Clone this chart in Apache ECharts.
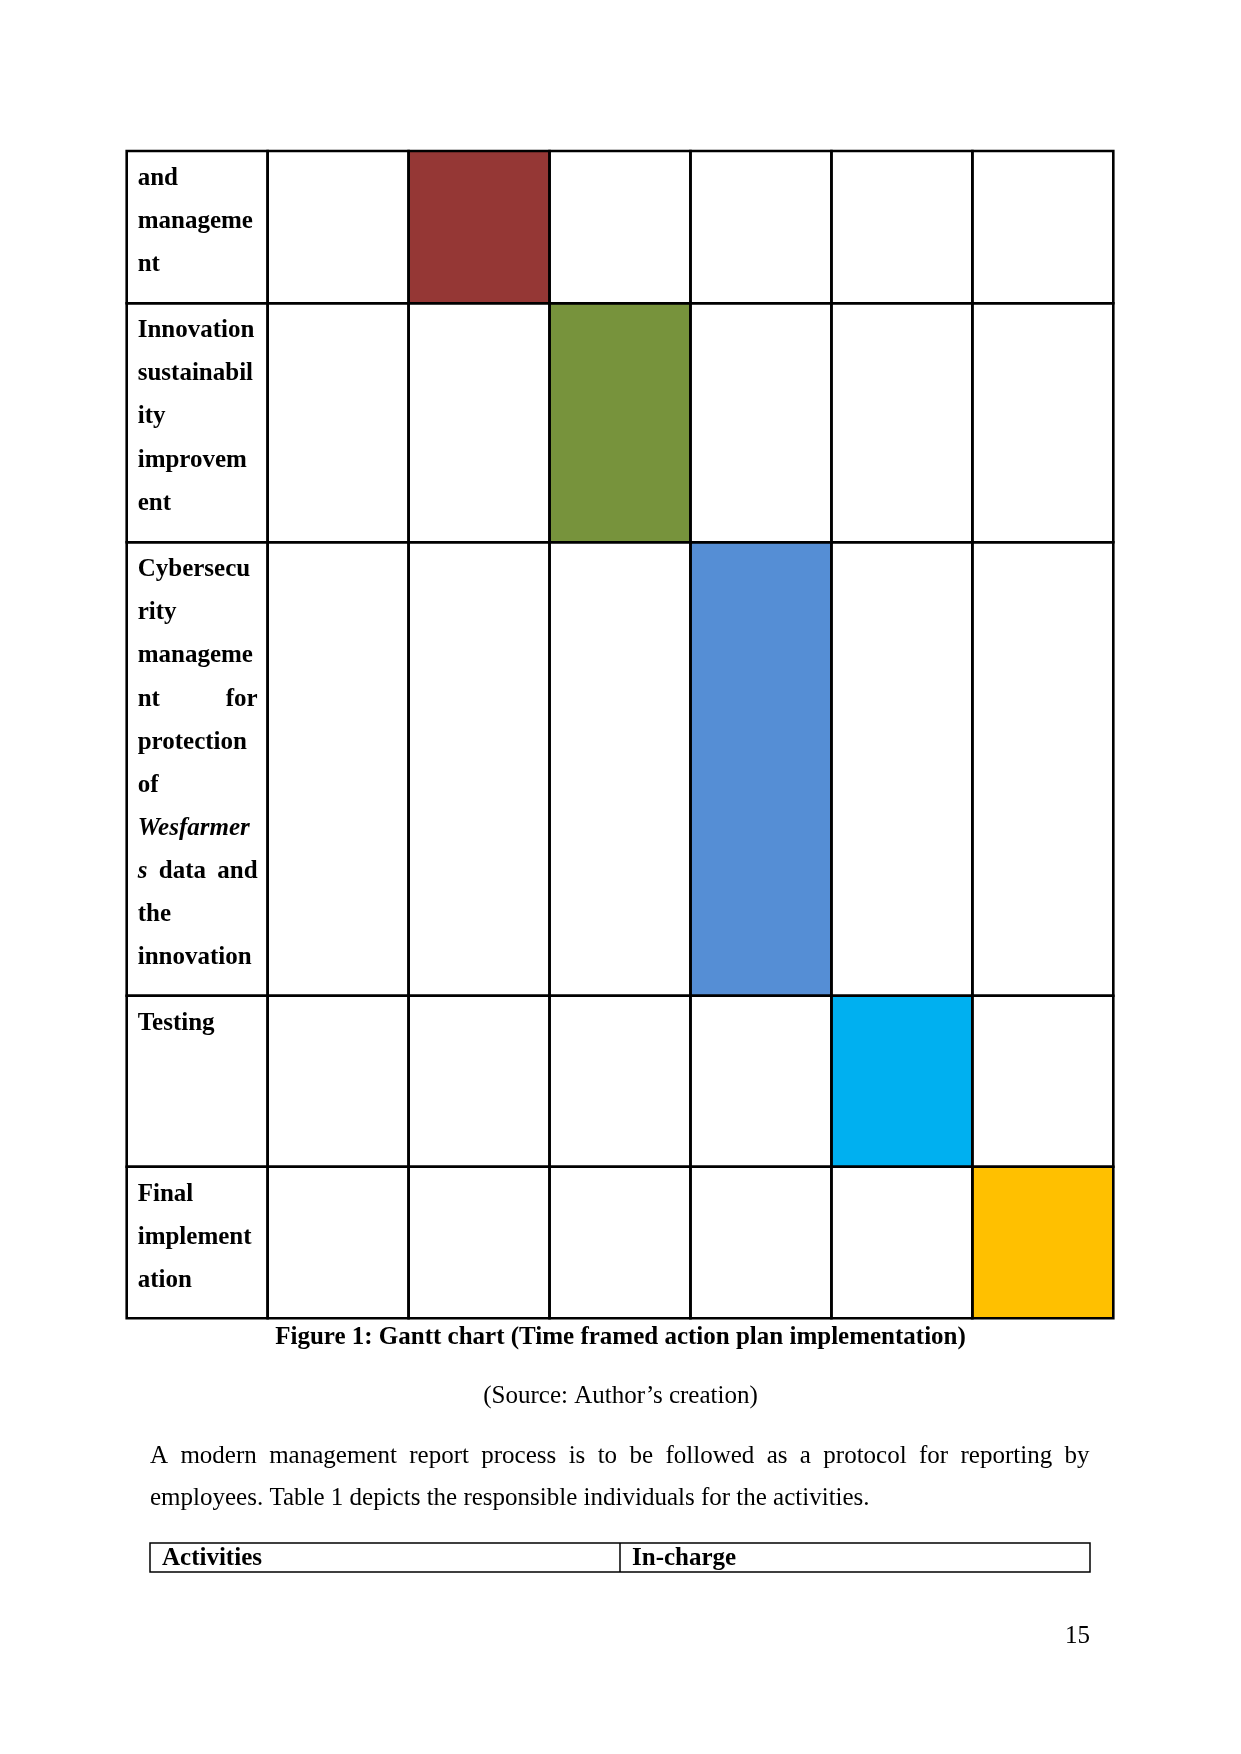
<!DOCTYPE html>
<html><head><meta charset="utf-8">
<script src="https://cdn.jsdelivr.net/npm/echarts@6/dist/echarts.min.js"></script>
<style>html,body{margin:0;padding:0;background:#fff}#c{width:1241px;height:1754px}</style>
</head><body><div id="c"></div>
<script>
// ---------------- data ----------------
const activities = ['and management', 'Innovation sustainability improvement',
  'Cybersecurity management for protection of Wesfarmers data and the innovation',
  'Testing', 'Final implementation'];
// label text as wrapped in the source table (*...* = italic)
const labelLines = [
  ['and', 'manageme', 'nt'],
  ['Innovation', 'sustainabil', 'ity', 'improvem', 'ent'],
  ['Cybersecu', 'rity', 'manageme', 'nt for', 'protection', 'of', '*Wesfarmer*', '*s* data and', 'the', 'innovation'],
  ['Testing'],
  ['Final', 'implement', 'ation']
];
const periods = [1, 2, 3, 4, 5, 6];
const activePeriod = [2, 3, 4, 5, 6];
const barColors = ['#953735', '#77933C', '#558ED5', '#00B0F0', '#FFC000'];
const captionText = 'Figure 1: Gantt chart (Time framed action plan implementation)';
const sourceText = '(Source: Author\u2019s creation)';
const paraLines = ['A modern management report process is to be followed as a protocol for reporting by',
  'employees. Table 1 depicts the responsible individuals for the activities.'];
const tableHeads = ['Activities', 'In-charge'];
const pageNumber = '15';

// ---------------- layout ----------------
const rowHeights = [152.3, 239, 453.4, 171, 151.6];
const rowStart = [];
(function () { let s = 0; rowHeights.forEach(h => { rowStart.push(s); s += h; }); })();
const totalH = rowHeights.reduce((a, b) => a + b, 0);
const FONT = '"Liberation Serif", "Times New Roman", serif';
const LINE_H = 43.1, FIRST_OFF = 27.5, PAD_L = 11, PAD_R = 10, LSIZE = 25;

const cv = document.createElement('canvas').getContext('2d');
function measure(t, size, bold, italic) {
  cv.font = (italic ? 'italic ' : '') + (bold ? 'bold ' : '') + size + 'px ' + FONT;
  return cv.measureText(t).width;
}
function parseWord(w) {
  const segs = [];
  const re = /\*([^*]+)\*|([^*]+)/g; let m;
  while ((m = re.exec(w))) segs.push(m[1] ? { t: m[1], it: true } : { t: m[2], it: false });
  return segs;
}
function wordEls(word, x, y, size, bold) {
  const els = []; let cx = x;
  parseWord(word).forEach(s => {
    els.push({ type: 'text', x: cx, y: y, style: { text: s.t, fill: '#000',
      font: (s.it ? 'italic ' : '') + (bold ? 'bold ' : '') + size + 'px ' + FONT,
      textAlign: 'left', textVerticalAlign: 'middle' } });
    cx += measure(s.t, size, bold, s.it);
  });
  return els;
}
function wordWidth(word, size, bold) {
  return parseWord(word).reduce((a, s) => a + measure(s.t, size, bold, s.it), 0);
}
function lineEls(line, x0, x1, y, size, bold, justify) {
  const words = line.split(' ');
  if (!justify || words.length < 2) return wordEls(line, x0, y, size, bold);
  const ws = words.map(w => wordWidth(w, size, bold));
  const gap = (x1 - x0 - ws.reduce((a, b) => a + b, 0)) / (words.length - 1);
  let cx = x0; let out = [];
  words.forEach((w, i) => { out = out.concat(wordEls(w, cx, y, size, bold)); cx += ws[i] + gap; });
  return out;
}

const cellData = [];
activities.forEach((a, r) => { [0].concat(periods).forEach(c => cellData.push([c, r])); });
const barData = activities.map((a, r) => [activePeriod[r], r]);
const labelData = activities.map((a, r) => [0, r]);

function cellRect(api) {
  const c = api.value(0), r = api.value(1);
  const p0 = api.coord([c, rowStart[r]]);
  const p1 = api.coord([c + 1, rowStart[r] + rowHeights[r]]);
  return { x: p0[0], y: p0[1], width: p1[0] - p0[0], height: p1[1] - p0[1] };
}

// below-chart texts
const gfx = [];
gfx.push({ type: 'text', x: 620.5, y: 1337.5, style: { text: captionText, fill: '#000', font: 'bold 25px ' + FONT, textAlign: 'center', textVerticalAlign: 'middle' } });
gfx.push({ type: 'text', x: 620.5, y: 1396.5, style: { text: sourceText, fill: '#000', font: '25px ' + FONT, textAlign: 'center', textVerticalAlign: 'middle' } });
const paraY = [1456, 1498];
paraLines.forEach((l, i) => {
  lineEls(l, 150, 1089.5, paraY[i], 25, false, i < paraLines.length - 1).forEach(e => gfx.push(e));
});
gfx.push({ type: 'rect', shape: { x: 150, y: 1543, width: 940, height: 29 }, style: { fill: 'none', stroke: '#000', lineWidth: 1.5 } });
gfx.push({ type: 'line', shape: { x1: 620, y1: 1543, x2: 620, y2: 1572 }, style: { stroke: '#000', lineWidth: 1.5 } });
gfx.push({ type: 'text', x: 162, y: 1559, style: { text: tableHeads[0], fill: '#000', font: 'bold 25px ' + FONT, textVerticalAlign: 'middle' } });
gfx.push({ type: 'text', x: 632, y: 1559, style: { text: tableHeads[1], fill: '#000', font: 'bold 25px ' + FONT, textVerticalAlign: 'middle' } });
gfx.push({ type: 'text', x: 1090, y: 1636, style: { text: pageNumber, fill: '#000', font: '25px ' + FONT, textAlign: 'right', textVerticalAlign: 'middle' } });

const chart = echarts.init(document.getElementById('c'), null, { renderer: 'canvas' });
chart.setOption({
  backgroundColor: '#fff',
  animation: false,
  grid: { left: 126.7, top: 151, width: 986.6, height: totalH },
  xAxis: { type: 'value', min: 0, max: 7, interval: 1, show: false },
  yAxis: { type: 'value', min: 0, max: totalH, inverse: true, show: false },
  graphic: gfx,
  series: [
    { type: 'custom', name: 'bars', z: 1, data: barData,
      renderItem: (p, api) => ({ type: 'rect', shape: cellRect(api),
        style: { fill: barColors[api.value(1)], stroke: null } }) },
    { type: 'custom', name: 'grid', z: 2, data: cellData,
      renderItem: (p, api) => ({ type: 'rect', shape: cellRect(api),
        style: { fill: null, stroke: '#000', lineWidth: 2.6 } }) },
    { type: 'custom', name: 'labels', z: 3, data: labelData,
      renderItem: (p, api) => {
        const r = api.value(1); const rc = cellRect(api);
        let kids = [];
        labelLines[r].forEach((ln, i) => {
          kids = kids.concat(lineEls(ln, rc.x + PAD_L, rc.x + rc.width - PAD_R,
            rc.y + FIRST_OFF + i * LINE_H, LSIZE, true, ln.indexOf(' ') >= 0));
        });
        return { type: 'group', children: kids };
      } }
  ]
});
</script></body></html>
